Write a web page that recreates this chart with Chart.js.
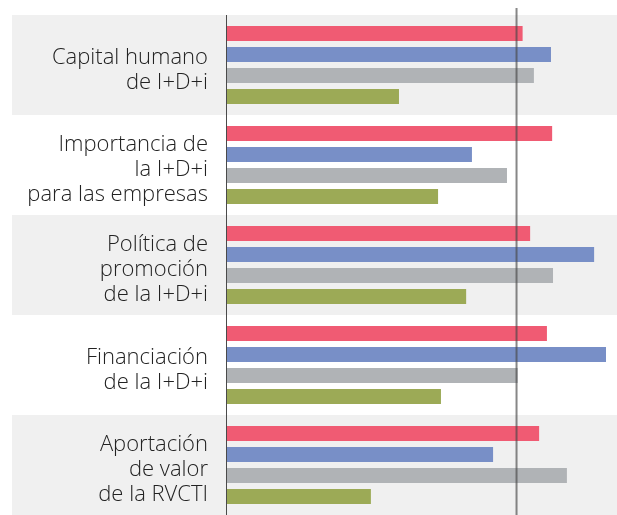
<!DOCTYPE html>
<html>
<head>
<meta charset="utf-8">
<script src="https://cdn.jsdelivr.net/npm/chart.js@4.4.1/dist/chart.umd.min.js"></script>
<style>
  html, body { margin: 0; padding: 0; background: #ffffff; }
  #wrap { width: 617px; height: 515px; position: relative; }
</style>
</head>
<body>
<div id="wrap"><canvas id="c"></canvas></div>
<script>
const categories = [
  ["Capital humano", "de I+D+i"],
  ["Importancia de", "la I+D+i", "para las empresas"],
  ["Política de", "promoción", "de la I+D+i"],
  ["Financiación", "de la I+D+i"],
  ["Aportación", "de valor", "de la RVCTI"]
];
const seriesRed   = [102.1, 112.3, 104.7, 110.5, 107.8];
const seriesBlue  = [111.9, 84.6, 126.8, 130.9, 91.9];
const seriesGray  = [106.0, 96.7, 112.6, 100.4, 117.4];
const seriesGreen = [59.4, 72.9, 82.6, 73.9, 49.7];
const referenceValue = 100;

const bandPlugin = {
  id: 'bands',
  beforeDraw(chart) {
    const ctx = chart.ctx;
    const y = chart.scales.y;
    const area = chart.chartArea;
    const step = (area.bottom - area.top) / categories.length;
    ctx.save();
    ctx.fillStyle = '#f0f0f0';
    for (let i = 0; i < categories.length; i += 2) {
      const c = y.getPixelForValue(i);
      ctx.fillRect(12, c - step / 2, area.right - 12, step);
    }
    ctx.restore();
  },
  afterDatasetsDraw(chart) {
    const ctx = chart.ctx;
    const x = chart.scales.x;
    const area = chart.chartArea;
    ctx.save();
    const x0 = Math.round(x.getPixelForValue(0)) - 0.5;
    ctx.strokeStyle = '#4a4a4a';
    ctx.lineWidth = 1;
    ctx.beginPath();
    ctx.moveTo(x0, area.top);
    ctx.lineTo(x0, area.bottom);
    ctx.stroke();
    const xr = x.getPixelForValue(referenceValue);
    ctx.strokeStyle = 'rgba(70,70,70,0.65)';
    ctx.lineWidth = 2;
    ctx.beginPath();
    ctx.moveTo(xr, area.top - 7);
    ctx.lineTo(xr, area.bottom);
    ctx.stroke();
    ctx.restore();
  }
};

const commonBar = { categoryPercentage: 0.84, barPercentage: 0.72, borderWidth: 0 };

new Chart(document.getElementById('c'), {
  type: 'bar',
  data: {
    labels: categories,
    datasets: [
      Object.assign({ data: seriesRed,   backgroundColor: '#f05b73' }, commonBar),
      Object.assign({ data: seriesBlue,  backgroundColor: '#788fc7' }, commonBar),
      Object.assign({ data: seriesGray,  backgroundColor: '#b0b3b6' }, commonBar),
      Object.assign({ data: seriesGreen, backgroundColor: '#9caa56' }, commonBar)
    ]
  },
  options: {
    indexAxis: 'y',
    responsive: true,
    maintainAspectRatio: false,
    animation: false,
    layout: { padding: { top: 15, right: 0, bottom: 0, left: 0 } },
    plugins: { legend: { display: false }, tooltip: { enabled: false } },
    scales: {
      x: {
        display: false,
        min: 0,
        max: 134.7
      },
      y: {
        grid: { display: false },
        border: { display: false },
        ticks: {
          color: '#222222',
          padding: 11,
          labelOffset: 5,
          font: { family: 'Open Sans', size: 22, weight: '300', lineHeight: 1.14 }
        },
        afterFit(scale) {
          scale.width = 227;
          scale.paddingTop = 0;
          scale.paddingBottom = 0;
        }
      }
    }
  },
  plugins: [bandPlugin]
});
</script>
</body>
</html>
